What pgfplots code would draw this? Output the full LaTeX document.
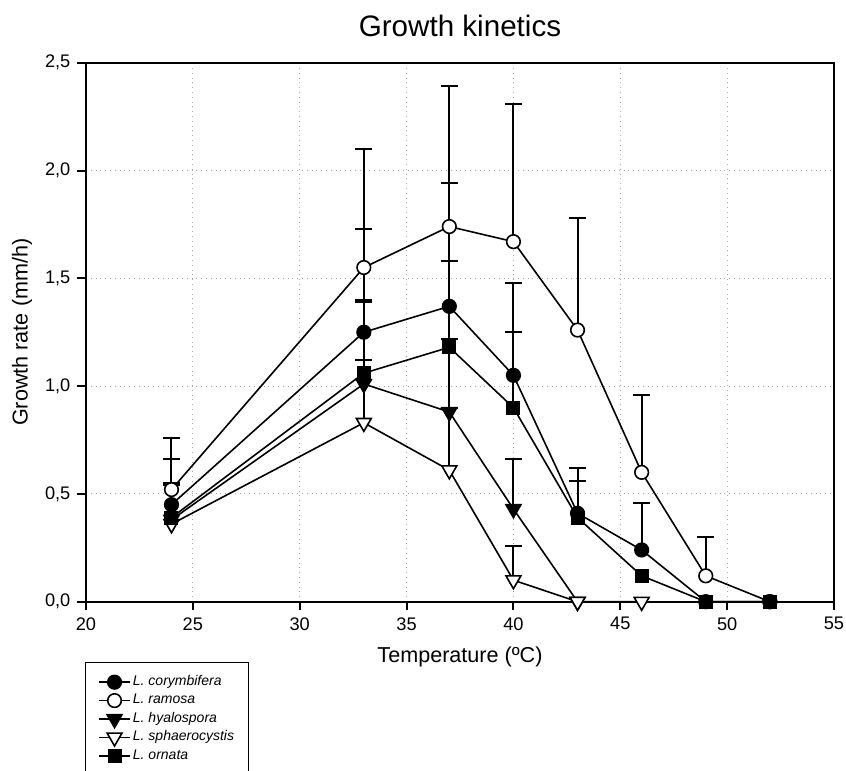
\documentclass[border=0pt]{standalone}
\usepackage{pgfplots}
\pgfplotsset{compat=1.18}
\usepackage{fontspec}
\setmainfont{Liberation Sans}

% upper error bars: x, mean, +sd
\pgfplotstableread{
x y ey
24 0.45 0.21
33 1.25 0.48
37 1.37 0.57
40 1.05 0.43
43 0.41 0.21
46 0.24 0.22
}\errC
\pgfplotstableread{
x y ey
24 0.52 0.24
33 1.55 0.55
37 1.74 0.65
40 1.67 0.64
43 1.26 0.52
46 0.60 0.36
49 0.12 0.18
}\errR
\pgfplotstableread{
x y ey
24 0.38 0.16
33 1.01 0.38
37 0.88 0.02
40 0.43 0.23
}\errH
\pgfplotstableread{
x y ey
33 0.83 0.29
37 0.61 0.97
40 0.10 0.16
}\errS
\pgfplotstableread{
x y ey
24 0.39 0.16
33 1.06 0.34
37 1.18 0.04
40 0.90 0.35
43 0.39 0.17
}\errO

\pgfplotsset{
  ser/.style={black, line width=0.8pt, mark options={solid, line width=0.8pt}},
  ebar/.style={forget plot, only marks, mark=none, black, line width=1pt,
    error bars/.cd, y dir=plus, y explicit,
    error bar style={black, line width=1pt},
    error mark options={rotate=90, black, line width=1pt, mark size=4.25pt}},
}

\begin{document}
\begin{tikzpicture}
\clip (-43pt,-84.65pt) rectangle (380pt,300.85pt);
\begin{axis}[
  scale only axis, width=374pt, height=269.5pt,
  xmin=20, xmax=55, ymin=0, ymax=2.5,
  xtick={20,25,30,35,40,45,50,55},
  ytick={0,0.5,1,1.5,2,2.5},
  tick pos=left, tick align=outside, major tick length=4.3pt,
  axis line style={line width=1pt},
  every tick/.style={black, line width=1pt},
  grid=major, grid style={dotted, gray!70, line width=0.5pt},
  clip=false,
  /pgf/number format/assume math mode=true,
  ticklabel style={font=\fontsize{9.1}{10}\selectfont},
  yticklabel style={/pgf/number format/.cd, fixed, fixed zerofill, precision=1, use comma},
  title={Growth kinetics},
  title style={font=\fontsize{14.8}{16}\selectfont, at={(axis description cs:0.5,1)}, anchor=base, yshift=7pt},
  xlabel={Temperature (ºC)},
  xlabel style={font=\fontsize{10.8}{12}\selectfont, at={(axis description cs:0.5,0)}, anchor=base, yshift=-30.15pt},
  ylabel={Growth rate (mm/h)},
  ylabel style={font=\fontsize{10.8}{12}\selectfont, at={(axis description cs:-0.0856,0.5)}, rotate=0, anchor=center},
  legend style={at={(axis description cs:0.005,-0.1315)}, anchor=north west, draw=none, fill=none,
    font=\fontsize{7}{8}\selectfont, inner xsep=4pt, inner ysep=0pt, row sep=0pt,
    nodes={inner sep=1pt, text height=5.3pt, text depth=1.9pt},
    /tikz/every even column/.append style={column sep=3pt}},
  legend cell align=left,
  legend image code/.code={\draw[mark repeat=2, mark phase=2] plot coordinates {(0pt,0pt)(7.8pt,0pt)(15.6pt,0pt)};},
]

\addplot[ebar] table[x=x, y=y, y error=ey] {\errC};
\addplot[ebar] table[x=x, y=y, y error=ey] {\errR};
\addplot[ebar] table[x=x, y=y, y error=ey] {\errH};
\addplot[ebar] table[x=x, y=y, y error=ey] {\errS};
\addplot[ebar] table[x=x, y=y, y error=ey] {\errO};

\addplot[ser, mark=*, mark size=3.4pt] coordinates {
  (24,0.45) (33,1.25) (37,1.37) (40,1.05) (43,0.41) (46,0.24) (49,0) (52,0)};
\addlegendentry{\textit{L. corymbifera}}

\addplot[ser, mark=*, mark size=3.4pt, mark options={fill=white}] coordinates {
  (24,0.52) (33,1.55) (37,1.74) (40,1.67) (43,1.26) (46,0.60) (49,0.12) (52,0)};
\addlegendentry{\textit{L. ramosa}}

\addplot[ser, mark=triangle*, mark size=4.3pt, mark options={rotate=180}] coordinates {
  (24,0.38) (33,1.01) (37,0.88) (40,0.43) (43,0)};
\addlegendentry{\textit{L. hyalospora}}

\addplot[ser, mark=triangle*, mark size=4.3pt, mark options={rotate=180, fill=white}] coordinates {
  (24,0.36) (33,0.83) (37,0.61) (40,0.10) (43,0) (46,0)};
\addlegendentry{\textit{L. sphaerocystis}}

\addplot[ser, mark=square*, mark size=3.1pt] coordinates {
  (24,0.39) (33,1.06) (37,1.18) (40,0.90) (43,0.39) (46,0.12) (49,0) (52,0)};
\addlegendentry{\textit{L. ornata}}

% legend frame, open at the bottom where the page cuts it
\draw[line width=0.5pt] (axis description cs:0,-0.314) -- (axis description cs:0,-0.1119)
  -- (axis description cs:0.2166,-0.1119) -- (axis description cs:0.2166,-0.314);

\end{axis}
\end{tikzpicture}
\end{document}
